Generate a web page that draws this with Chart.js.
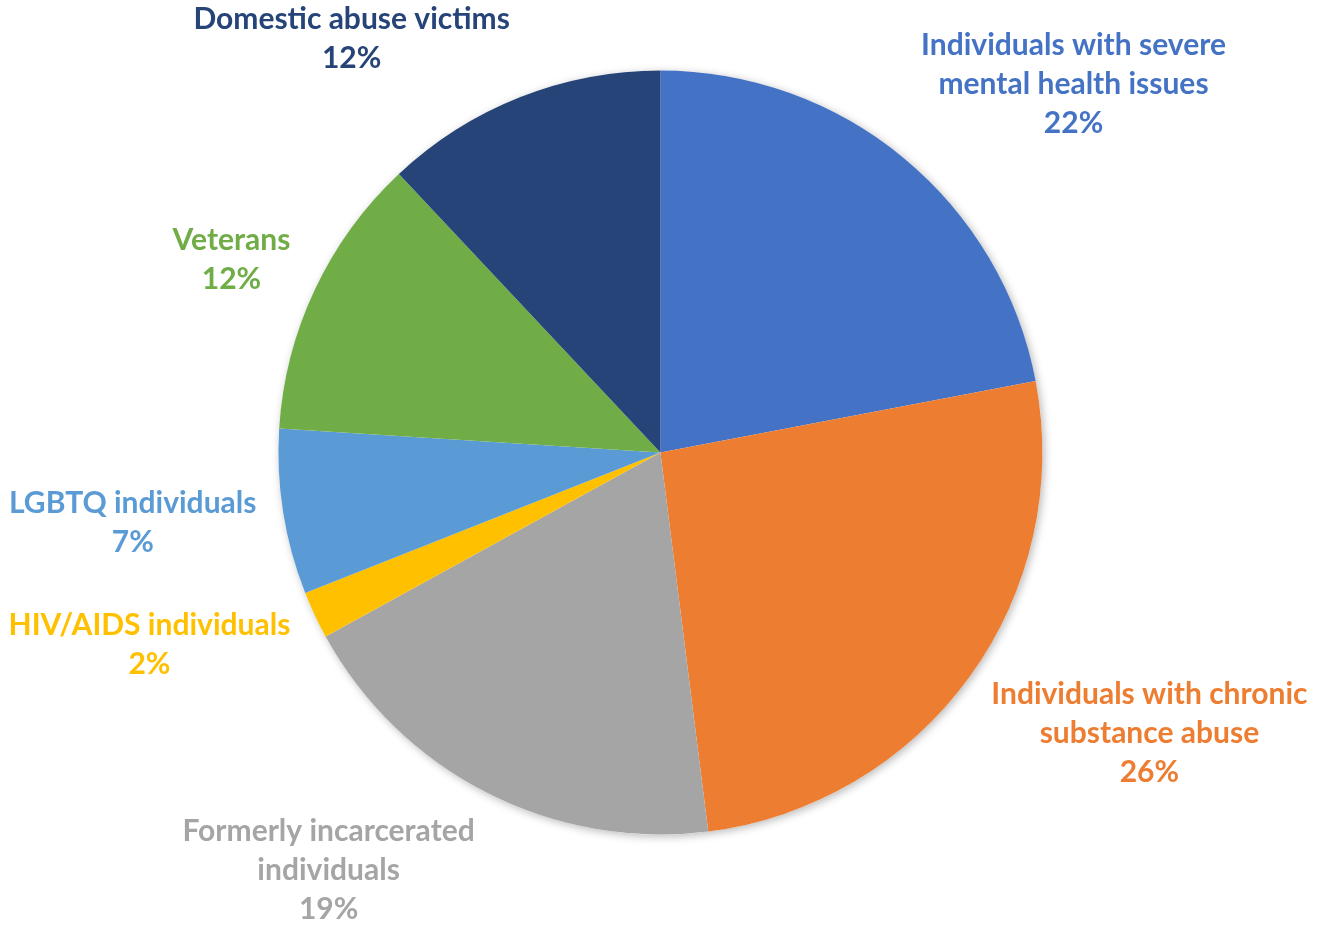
<!DOCTYPE html>
<html>
<head>
<meta charset="utf-8">
<script src="https://cdn.jsdelivr.net/npm/chart.js@4"></script>
<style>
  html, body { margin: 0; padding: 0; background: #ffffff; }
  #wrap { width: 1330px; height: 929px; }
</style>
</head>
<body>
<div id="wrap"><canvas id="chart" width="1330" height="929"></canvas></div>
<script>
// Homeless population groups (percent of total)
const categories = [
  ['Individuals with severe', 'mental health issues'],
  ['Individuals with chronic', 'substance abuse'],
  ['Formerly incarcerated', 'individuals'],
  ['HIV/AIDS individuals'],
  ['LGBTQ individuals'],
  ['Veterans'],
  ['Domestic abuse victims']
];
const shares = [22, 26, 19, 2, 7, 12, 12];
const sliceColors = ['#4472C4', '#ED7D31', '#A5A5A5', '#FFC000', '#5B9BD5', '#70AD47', '#264478'];

const LABEL_FONT = 'bold 30px Lato, "Open Sans", sans-serif';
const LINE_H = 39;
const CAP_BOX = 28;     // visible height of a single text line
const LABEL_GAP = 27;   // distance from the rim to the nearest label corner

// soft drop shadow under the whole pie
const pieShadow = {
  id: 'pieShadow',
  beforeDatasetsDraw(chart) {
    const arc = chart.getDatasetMeta(0).data[0];
    if (!arc) return;
    const ctx = chart.ctx;
    ctx.save();
    ctx.shadowColor = 'rgba(0,0,0,0.28)';
    ctx.shadowBlur = 9;
    ctx.shadowOffsetX = 2;
    ctx.shadowOffsetY = 2;
    ctx.fillStyle = '#ffffff';
    ctx.beginPath();
    ctx.arc(arc.x, arc.y, arc.outerRadius, 0, Math.PI * 2);
    ctx.fill();
    ctx.restore();
  }
};

// category name + percentage placed outside each slice
const outsideLabels = {
  id: 'outsideLabels',
  afterDatasetsDraw(chart) {
    const ctx = chart.ctx;
    const meta = chart.getDatasetMeta(0);
    ctx.save();
    ctx.font = LABEL_FONT;
    ctx.textAlign = 'center';
    ctx.textBaseline = 'middle';
    meta.data.forEach((arc, i) => {
      const lines = categories[i].concat([shares[i] + '%']);
      const mid = (arc.startAngle + arc.endAngle) / 2;
      const dx = Math.cos(mid), dy = Math.sin(mid);
      const px = arc.x + dx * (arc.outerRadius + LABEL_GAP);
      const py = arc.y + dy * (arc.outerRadius + LABEL_GAP);
      const w = Math.max(...lines.map(t => ctx.measureText(t).width));
      const h = (lines.length - 1) * LINE_H + CAP_BOX;
      const sy = Math.max(-1, Math.min(1, dy * 1.3));
      const cx = px + Math.sign(dx) * w / 2;
      const cy = py + sy * h / 2;
      ctx.fillStyle = sliceColors[i];
      lines.forEach((t, k) => {
        ctx.fillText(t, cx, cy + (k - (lines.length - 1) / 2) * LINE_H);
      });
    });
    ctx.restore();
  }
};

new Chart(document.getElementById('chart'), {
  type: 'pie',
  data: {
    labels: categories.map(c => c.join(' ')),
    datasets: [{
      data: shares,
      backgroundColor: sliceColors,
      borderWidth: 0
    }]
  },
  options: {
    responsive: false,
    devicePixelRatio: 1,
    animation: false,
    layout: { padding: { left: 278.4, right: 287.6, top: 70.5, bottom: 94.5 } },
    plugins: {
      legend: { display: false },
      tooltip: { enabled: false }
    }
  },
  plugins: [pieShadow, outsideLabels]
});
</script>
</body>
</html>
